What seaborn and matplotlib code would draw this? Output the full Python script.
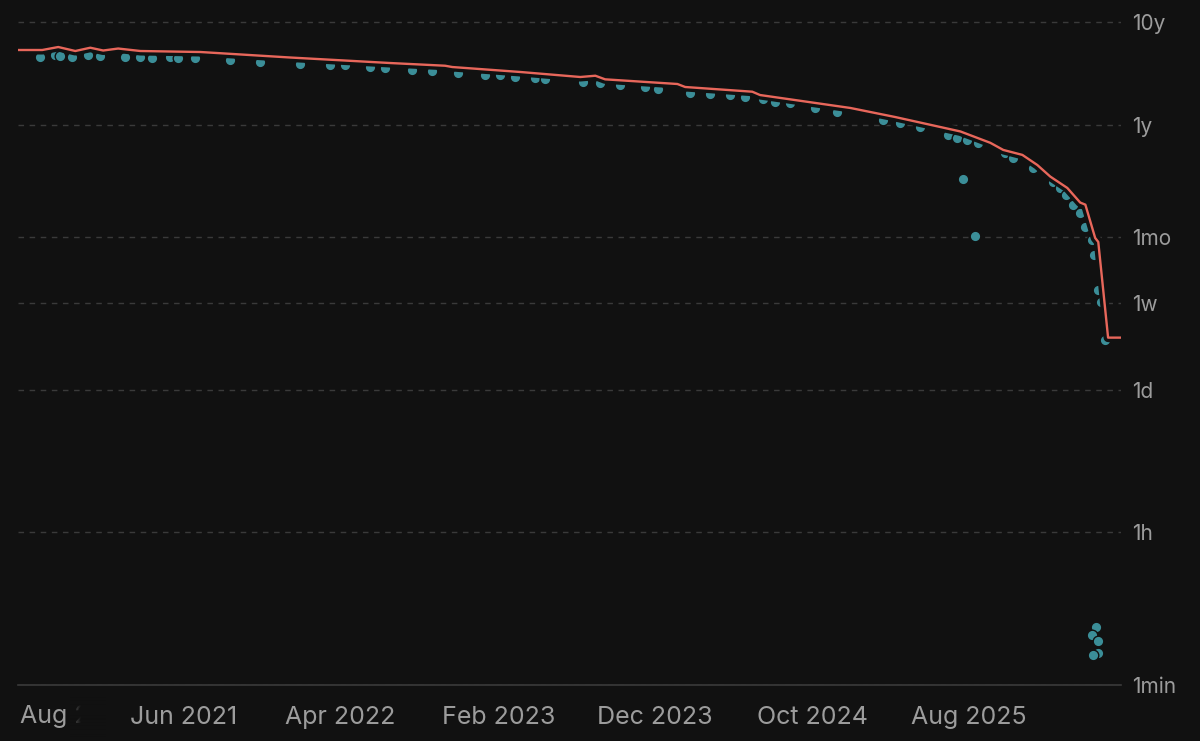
import numpy as np
import pandas as pd
import matplotlib
matplotlib.use('Agg')
import matplotlib.pyplot as plt
import matplotlib.patheffects as pe
import seaborn as sns

# red line: remaining time (days)
line_dates = ['2020-07-16', '2020-09-01', '2020-10-02', '2020-11-04', '2020-12-03',
              '2020-12-28', '2021-01-26', '2021-03-10', '2021-07-04', '2021-12-25',
              '2022-07-07', '2022-10-21', '2022-11-04', '2023-03-16', '2023-07-10',
              '2023-08-08', '2023-08-27', '2024-01-14', '2024-01-29', '2024-06-07',
              '2024-06-22', '2024-12-14', '2025-03-11', '2025-07-15', '2025-09-11',
              '2025-10-06', '2025-11-12', '2025-12-11', '2026-01-05', '2026-02-07',
              '2026-03-04', '2026-03-14', '2026-04-02', '2026-04-08', '2026-04-27',
              '2026-05-22']
line_days = [1948, 1948, 2082, 1905, 2050, 1926, 2013, 1905, 1863, 1648,
             1457, 1372, 1333, 1193, 1067, 1098, 1013, 913, 854, 769,
             714, 535, 437, 317, 246, 210, 188, 150, 116, 90,
             65, 62, 29.5, 27, 3.2, 3.2]

# teal points: individual estimates (days)
dot_dates = ['2020-08-28', '2020-09-26', '2020-10-06', '2020-10-29', '2020-11-29',
             '2020-12-22', '2021-02-09', '2021-03-10', '2021-04-02', '2021-05-07',
             '2021-05-22', '2021-06-24', '2021-08-31', '2021-10-28', '2022-01-14',
             '2022-03-13', '2022-04-11', '2022-05-29', '2022-06-27', '2022-08-18',
             '2022-09-26', '2022-11-16', '2023-01-07', '2023-02-05', '2023-03-06',
             '2023-04-14', '2023-05-03', '2023-07-16', '2023-08-18', '2023-09-25',
             '2023-11-13', '2023-12-08', '2024-02-08', '2024-03-18', '2024-04-25',
             '2024-05-24', '2024-06-28', '2024-07-21', '2024-08-19', '2024-10-07',
             '2024-11-18', '2025-02-16', '2025-03-20', '2025-04-28', '2025-06-21',
             '2025-07-09', '2025-07-20', '2025-07-28', '2025-08-13', '2025-08-19',
             '2025-10-10', '2025-10-25', '2025-12-03', '2026-01-11', '2026-01-24',
             '2026-02-05', '2026-02-18', '2026-03-04', '2026-03-14', '2026-03-27',
             '2026-03-31', '2026-04-08', '2026-04-14', '2026-04-21',
             '2026-04-04', '2026-03-27', '2026-04-08', '2026-04-08', '2026-03-29']
dot_days = [1666, 1742, 1704, 1666, 1742,
            1704, 1666, 1666, 1630, 1666,
            1630, 1630, 1558, 1490, 1425,
            1394, 1394, 1333, 1304, 1247,
            1220, 1167, 1116, 1116, 1067,
            1043, 1020, 955, 933, 893,
            854, 816, 747, 730, 714,
            683, 653, 611, 598, 535,
            489, 409, 383, 350, 293,
            274, 110, 262, 30.8, 245,
            196, 175, 140, 103, 89.9,
            76.9, 61.5, 51.5, 37.7, 28.2,
            20.2, 9.25, 7.08, 3.03,
            0.00435, 0.00353, 0.00301, 0.00214, 0.00201]

ytick_secs = [60, 3600, 86400, 604800, 2629800, 31557600, 315576000]
ytick_labels = ['1min', '1h', '1d', '1w', '1mo', '1y', '10y']
xtick_dates = ['2021-06-01', '2022-04-01', '2023-02-01', '2023-12-01', '2024-10-01', '2025-08-01']
xtick_labels = ['Jun 2021', 'Apr 2022', 'Feb 2023', 'Dec 2023', 'Oct 2024', 'Aug 2025']

bg = '#111111'
red = '#e8675b'
teal = '#3b8e98'
grid_c = '#3a3a3a'
text_c = '#9c9c9c'

sns.set_theme(style='dark', rc={'axes.facecolor': bg, 'figure.facecolor': bg})
plt.rcParams['font.family'] = ['Inter', 'DejaVu Sans']

line = pd.DataFrame({'date': pd.to_datetime(line_dates), 'secs': np.array(line_days) * 86400})
dots = pd.DataFrame({'date': pd.to_datetime(dot_dates), 'secs': np.array(dot_days) * 86400})

# log scale of (t + 1 min)
def fwd(y):
    return np.log10(np.clip(np.asarray(y, dtype=float) + 60, 1e-6, None))

def inv(v):
    return 10 ** np.asarray(v, dtype=float) - 60

fig = plt.figure(figsize=(12, 7.41), dpi=100)
ax = fig.add_axes([18 / 1200, 56 / 741, 1103 / 1200, 685 / 741])
ax.set_yscale('function', functions=(fwd, inv))

sns.scatterplot(data=dots, x='date', y='secs', ax=ax, s=58, color=teal,
                edgecolor=bg, linewidth=1.0, zorder=3)
sns.lineplot(data=line, x='date', y='secs', ax=ax, color=red, lw=1.7,
             estimator=None, sort=False, zorder=4,
             path_effects=[pe.Stroke(linewidth=6.5, foreground=bg), pe.Normal()])

ax.set_xlim(pd.Timestamp('2020-07-16'), pd.Timestamp('2026-05-22'))
ax.set_ylim(60, 5.13e8)

ax.set_yticks(ytick_secs, ytick_labels)
ax.yaxis.tick_right()
ax.tick_params(axis='y', length=0, pad=8, labelcolor=text_c, labelsize=15)
ax.set_xticks(pd.to_datetime(xtick_dates), xtick_labels)
ax.tick_params(axis='x', length=0, pad=15, labelcolor=text_c, labelsize=18)
ax.set_xlabel('')
ax.set_ylabel('')

ax.grid(axis='y', color=grid_c, linestyle=(0, (4, 4)), linewidth=1)
ax.grid(axis='x', visible=False)
for side in ['top', 'left', 'right']:
    ax.spines[side].set_visible(False)
ax.spines['bottom'].set_color(grid_c)
ax.spines['bottom'].set_linewidth(1.2)

# first date label, cut off and fading out
fig.text(20 / 1200, 1 - 717 / 741, 'Aug 20', color=text_c, fontsize=18,
         ha='left', va='center')
fade = np.zeros((1, 36, 4))
fade[..., :3] = np.array([17, 17, 17]) / 255
fade[..., 3] = np.clip(0.35 + np.arange(36) / 16, 0.0, 1)
fax = fig.add_axes([70 / 1200, 0, 36 / 1200, 50 / 741])
fax.imshow(fade, aspect='auto', interpolation='bilinear')
fax.axis('off')
fax.set_zorder(10)

fig.savefig('out.png', dpi=100, facecolor=bg)
